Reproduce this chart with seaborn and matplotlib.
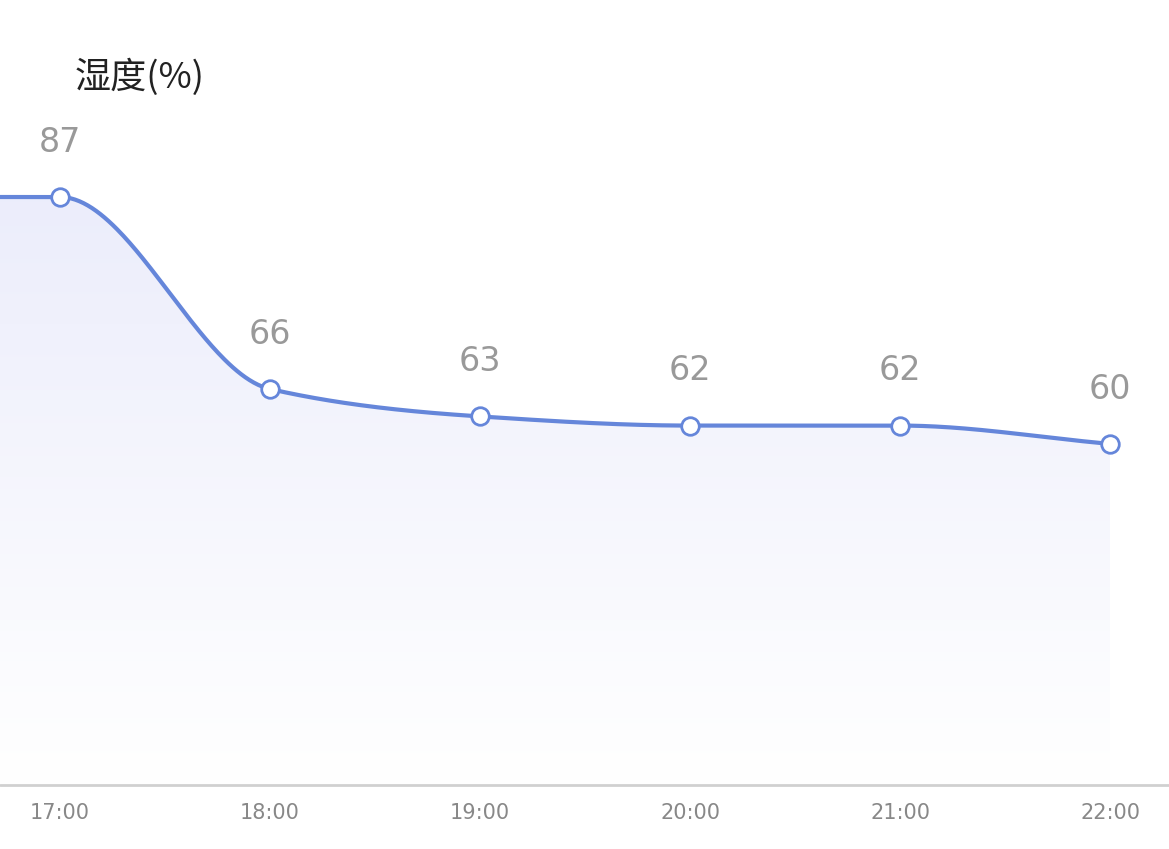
import numpy as np
import pandas as pd
import matplotlib
matplotlib.use("Agg")
import matplotlib.pyplot as plt
import seaborn as sns
from matplotlib.patches import Polygon

hours = [16, 17, 18, 19, 20, 21, 22]
humidity = [87, 87, 66, 63, 62, 62, 60]
tick_labels = ["17:00", "18:00", "19:00", "20:00", "21:00", "22:00"]
title = "湿度(%)"

def pchip(x, y, xs):
    x = np.asarray(x, float); y = np.asarray(y, float)
    h = np.diff(x); d = np.diff(y) / h
    m = np.zeros_like(y)
    for k in range(1, len(x) - 1):
        if d[k - 1] * d[k] > 0:
            w1 = 2 * h[k] + h[k - 1]; w2 = h[k] + 2 * h[k - 1]
            m[k] = (w1 + w2) / (w1 / d[k - 1] + w2 / d[k])
    m[0] = 0; m[-1] = d[-1]
    out = np.empty_like(xs)
    for i, xv in enumerate(xs):
        k = min(max(np.searchsorted(x, xv) - 1, 0), len(x) - 2)
        t = (xv - x[k]) / h[k]
        h00 = 2*t**3 - 3*t**2 + 1; h10 = t**3 - 2*t**2 + t
        h01 = -2*t**3 + 3*t**2; h11 = t**3 - t**2
        out[i] = h00*y[k] + h10*h[k]*m[k] + h01*y[k+1] + h11*h[k]*m[k+1]
    return out

sns.set_style("white")
plt.rcParams['font.family'] = ['Noto Sans CJK SC', 'DejaVu Sans']
fig = plt.figure(figsize=(11.69, 8.49), dpi=100)
ax = fig.add_axes([0, 0, 1, 1])
x0, x1 = 17 - 60/210, 17 + 1109/210 + 0.0
ax.set_xlim(x0, 17 + 1169/210 - 60/210 + 0.0)
ppu = 192 / 21
base = 87 - (785 - 197) / ppu
ax.set_ylim(87 - (849 - 197) / ppu, 87 + 197 / ppu)
ax.axis("off")

xs = np.linspace(16, 22, 600)
ys = pchip(hours, humidity, xs)
df = pd.DataFrame({"x": xs, "y": ys})

# gradient fill
grad = np.linspace(0, 1, 256).reshape(-1, 1)
c_top = np.array([0.925, 0.93, 0.985]); c_bot = np.array([1, 1, 1])
img = c_bot + (c_top - c_bot) * grad
img = np.repeat(img[:, None, :], 2, axis=1).reshape(256, 2, 3)
im = ax.imshow(img, extent=[16, 22, base, 87], origin="lower", aspect="auto", zorder=1)
poly = Polygon(np.vstack([np.column_stack([xs, ys]), [[22, base], [16, base]]]), closed=True,
               facecolor="none", edgecolor="none")
ax.add_patch(poly)
im.set_clip_path(poly)

sns.lineplot(data=df, x="x", y="y", ax=ax, color="#6586DA", linewidth=3, zorder=3)
ax.scatter(hours[1:], humidity[1:], s=160, facecolor="white", edgecolor="#6586DA",
           linewidth=2, zorder=4)
for h, v in zip(hours[1:], humidity[1:]):
    ax.text(h, v + 29/ppu * 1.0 + 1.0, str(v), ha="center", va="bottom", fontsize=24,
            color="#999999", family="DejaVu Sans")
ax.axhline(base, color="#D0D0D0", linewidth=2, zorder=2)
for h, lab in zip(hours[1:], tick_labels):
    ax.text(h, 87 - (813 - 197) / ppu, lab, ha="center", va="center", fontsize=15,
            color="#888888", family="DejaVu Sans")
ax.text(17 + 15/210, 87 + (197 - 77) / ppu, title, ha="left", va="center",
        fontsize=26, color="#222222")
fig.savefig("out.png", dpi=100)
